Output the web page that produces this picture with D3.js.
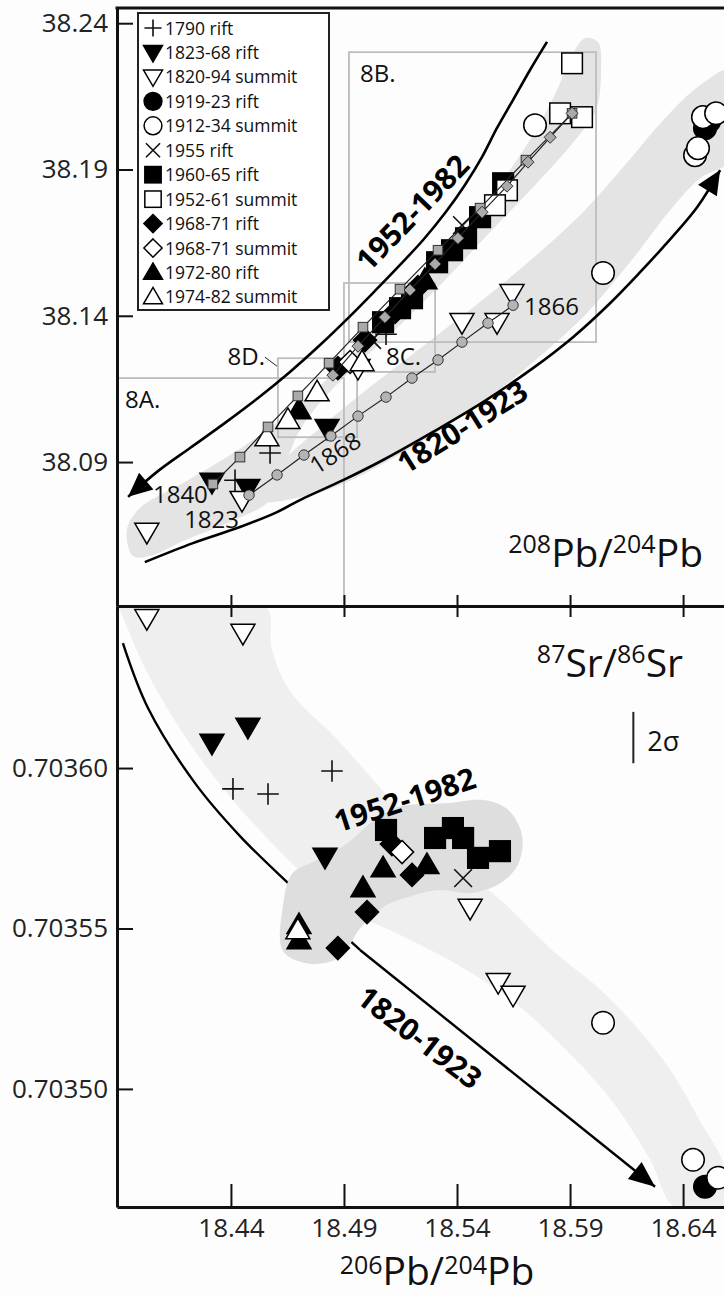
<!DOCTYPE html>
<html>
<head>
<meta charset="utf-8">
<script src="https://cdn.jsdelivr.net/npm/d3@7"></script>
<style>
  html, body { margin: 0; padding: 0; background: #fdfdfd; }
  svg { display: block; font-family: "Open Sans", "Noto Sans", sans-serif; }
</style>
</head>
<body>
<svg id="chart" width="724" height="1296"></svg>
<script>
// ---------------- data ----------------
const legendLabels = ["1790 rift", "1823-68 rift", "1820-94 summit", "1919-23 rift", "1912-34 summit",
  "1955 rift", "1960-65 rift", "1952-61 summit", "1968-71 rift", "1968-71 summit", "1972-80 rift", "1974-82 summit"];

const xTicks = [18.44, 18.49, 18.54, 18.59, 18.64];
const pbTicks = [38.09, 38.14, 38.19, 38.24];
const srTicks = [0.70350, 0.70355, 0.70360];

// 206Pb/204Pb vs 208Pb/204Pb, one array per eruption group
const pb1790rift = [[18.4573, 38.0931], [18.4418, 38.0838], [18.5086, 38.1337]];
const pb1823rift = [[18.4316, 38.0832], [18.4475, 38.0811], [18.4825, 38.1016]];
const pb1820summit = [[18.4028, 38.0661], [18.4449, 38.0770], [18.5422, 38.1378], [18.5577, 38.1378], [18.5643, 38.1477], [18.4962, 38.1221]];
const pb1919rift = [[18.6497, 38.2041], [18.6515, 38.2065]];
const pb1912summit = [[18.5745, 38.2051], [18.6046, 38.1546], [18.6453, 38.1949], [18.6466, 38.1973], [18.6488, 38.2079], [18.6546, 38.2092]];
const pb1955rift = [[18.5422, 38.1710], [18.5024, 38.1317]];
const pb1960rift = [[18.5604, 38.1853], [18.5502, 38.1737], [18.5440, 38.1665], [18.5378, 38.1624], [18.5312, 38.1583], [18.5201, 38.1460], [18.5148, 38.1426], [18.5073, 38.1378]];
const pb1952summit = [[18.5909, 38.2263], [18.5856, 38.2092], [18.5953, 38.2079], [18.5621, 38.1829], [18.5568, 38.1778]];
const pb1968rift = [[18.5227, 38.1498], [18.5126, 38.1413], [18.4993, 38.1317], [18.4873, 38.1221]];
const pb1968summit = [[18.4927, 38.1242]];
const pb1972rift = [[18.4701, 38.1078], [18.5258, 38.1522]];
const pb1974summit = [[18.4559, 38.0985], [18.4781, 38.1139], [18.4652, 38.1044], [18.4980, 38.1242]];

// 206Pb/204Pb vs 87Sr/86Sr
const sr1790rift = [[18.4409, 0.7035935], [18.4564, 0.7035919], [18.4847, 0.7035991]];
const sr1823rift = [[18.4316, 0.7036078], [18.4475, 0.7036128], [18.4816, 0.7035723]];
const sr1820summit = [[18.4028, 0.7036467], [18.4453, 0.7036421], [18.5458, 0.7035564], [18.5582, 0.7035333], [18.5648, 0.7035293]];
const sr1919rift = [[18.6497, 0.7034695]];
const sr1912summit = [[18.6046, 0.7035206], [18.6444, 0.7034779], [18.6555, 0.7034723]];
const sr1955rift = [[18.5427, 0.7035657]];
const sr1960rift = [[18.5086, 0.7035807], [18.5303, 0.7035782], [18.5382, 0.7035813], [18.5427, 0.7035782], [18.5493, 0.7035720], [18.5590, 0.7035741]];
const sr1952summit = [];
const sr1968rift = [[18.5112, 0.7035763], [18.5201, 0.7035667], [18.5002, 0.7035551], [18.4873, 0.7035439]];
const sr1968summit = [[18.5157, 0.7035738]];
const sr1972rift = [[18.5073, 0.7035688], [18.5267, 0.7035698], [18.4984, 0.7035626], [18.4701, 0.7035511], [18.4701, 0.7035464]];
const sr1974summit = [[18.4696, 0.7035495]];

// model paths in Pb-Pb space (small grey markers joined by a thin line)
const modelSquares = [[18.4320, 38.0825], [18.4440, 38.0917], [18.4564, 38.1020], [18.4696, 38.1126], [18.4834, 38.1238], [18.4984, 38.1361], [18.5148, 38.1491], [18.5316, 38.1624], [18.5502, 38.1768], [18.5705, 38.1932], [18.5909, 38.2092]];
const modelDiamonds = [[18.4851, 38.1197], [18.4962, 38.1296], [18.5081, 38.1395], [18.5192, 38.1488], [18.5303, 38.1577], [18.5404, 38.1665], [18.5511, 38.1754], [18.5621, 38.1843], [18.5714, 38.1925], [18.5812, 38.2010], [18.5909, 38.2092]];
const modelCircles = [[18.4480, 38.0787], [18.4604, 38.0856], [18.4723, 38.0924], [18.4842, 38.0989], [18.4962, 38.1057], [18.5086, 38.1122], [18.5201, 38.1187], [18.5316, 38.1249], [18.5422, 38.1310], [18.5537, 38.1375], [18.5648, 38.1436]];

// temporal trend curves
const trendPbRecent = [[18.5798, 38.2336], [18.5723, 38.2240], [18.5648, 38.2138], [18.5577, 38.2042], [18.5511, 38.1943], [18.5435, 38.1847], [18.5347, 38.1751], [18.5250, 38.1659], [18.5148, 38.1574], [18.5037, 38.1485], [18.4927, 38.1399], [18.4794, 38.1300], [18.4661, 38.1208], [18.4520, 38.1119], [18.4374, 38.1034], [18.4219, 38.0948], [18.4077, 38.0869], [18.3945, 38.0781]];
const trendPbEarly = [[18.4019, 38.0558], [18.4232, 38.0623], [18.4440, 38.0678], [18.4604, 38.0729], [18.4705, 38.0770], [18.4896, 38.0838], [18.5073, 38.0907], [18.5294, 38.1003], [18.5515, 38.1105], [18.5736, 38.1221], [18.5913, 38.1327], [18.6077, 38.1443], [18.6210, 38.1549], [18.6312, 38.1635], [18.6462, 38.1771], [18.6564, 38.1898]];
const trendSrEarly = [[18.3922, 0.7036389], [18.4033, 0.7036187], [18.4241, 0.7035953], [18.4440, 0.7035788], [18.4661, 0.7035636], [18.4971, 0.7035433], [18.6276, 0.7034695]];

// shaded fields
const fieldPbRecent = [[18.3966, 38.0579], [18.3940, 38.0668], [18.3997, 38.0743], [18.4196, 38.0832], [18.4418, 38.0934], [18.4639, 38.1057], [18.4860, 38.1208], [18.5081, 38.1378], [18.5303, 38.1573], [18.5524, 38.1785], [18.5714, 38.1990], [18.5838, 38.2164], [18.5909, 38.2291], [18.5966, 38.2349], [18.6024, 38.2335], [18.6037, 38.2239], [18.6015, 38.2103], [18.5922, 38.2000], [18.5745, 38.1846], [18.5546, 38.1686], [18.5347, 38.1522], [18.5148, 38.1368], [18.4971, 38.1242], [18.4816, 38.1122], [18.4705, 38.1009], [18.4639, 38.0890], [18.4573, 38.0770], [18.4396, 38.0695], [18.4196, 38.0633], [18.4042, 38.0579]];
const fieldPbEarly = [[18.4537, 38.0770], [18.4705, 38.0780], [18.4882, 38.0821], [18.5104, 38.0907], [18.5325, 38.1009], [18.5546, 38.1122], [18.5767, 38.1262], [18.5966, 38.1402], [18.6165, 38.1583], [18.6343, 38.1761], [18.6475, 38.1870], [18.6608, 38.1932], [18.6608, 38.2239], [18.6475, 38.2188], [18.6320, 38.2075], [18.6143, 38.1915], [18.5966, 38.1761], [18.5767, 38.1618], [18.5568, 38.1488], [18.5369, 38.1368], [18.5170, 38.1249], [18.4971, 38.1129], [18.4794, 38.1016], [18.4639, 38.0907]];
const fieldSrAll = [[18.3896, 0.7036505], [18.3909, 0.703649], [18.4028, 0.703630], [18.4205, 0.703609], [18.4409, 0.703590], [18.4674, 0.703570], [18.4882, 0.703557], [18.5148, 0.703548], [18.5369, 0.703540], [18.5635, 0.703528], [18.5856, 0.703514], [18.6077, 0.703497], [18.6254, 0.703478], [18.6365, 0.703463], [18.6581, 0.703463], [18.6581, 0.703476], [18.6475, 0.703490], [18.6343, 0.703506], [18.6210, 0.703518], [18.6033, 0.703531], [18.5825, 0.703543], [18.5590, 0.703559], [18.5369, 0.703571], [18.5214, 0.703582], [18.5059, 0.703594], [18.4869, 0.703609], [18.4661, 0.703624], [18.4581, 0.703637], [18.4550, 0.7036505]];
const fieldSrRecent = [[18.4630, 0.703543], [18.4630, 0.703557], [18.4670, 0.703567], [18.4772, 0.703571], [18.4904, 0.703576], [18.5037, 0.703584], [18.5148, 0.703588], [18.5347, 0.703589], [18.5524, 0.703590], [18.5626, 0.703587], [18.5688, 0.703579], [18.5670, 0.703570], [18.5590, 0.703564], [18.5458, 0.703561], [18.5325, 0.703562], [18.5192, 0.703560], [18.5081, 0.703557], [18.4971, 0.703550], [18.4882, 0.703541], [18.4750, 0.703539]];

// outlines of the enlarged sub-regions
const insetNames = ["8A.", "8B.", "8C.", "8D."];
const insetX = [[18.3896, 18.4900], [18.4922, 18.6015], [18.4900, 18.5303], [18.4608, 18.4958]];
const insetY = [[38.0408, 38.1187], [38.1310, 38.2301], [38.1208, 38.1512], [38.0985, 38.1255]];

// analytical uncertainty of 87Sr/86Sr
const srTwoSigma = 0.000016;
const sigmaBarAt = [18.618, 0.7036095];

// ---------------- layout ----------------
const W = 724, H = 1296;
const plotL = 117, plotR = 724, plotT = 8, plotM = 606, plotB = 1207;

const x = d3.scaleLinear().domain([18.3896, 18.6581]).range([plotL, plotR]);
const yPb = d3.scaleLinear().domain([38.0408, 38.2452]).range([plotM, plotT]);
const ySr = d3.scaleLinear().domain([0.7034632, 0.7036505]).range([plotB, plotM]);

// marker style per legend entry
const styles = [
  {shape: "plus"}, {shape: "down", filled: true}, {shape: "down"}, {shape: "circle", filled: true},
  {shape: "circle"}, {shape: "cross"}, {shape: "square", filled: true}, {shape: "square"},
  {shape: "diamond", filled: true}, {shape: "diamond"}, {shape: "up", filled: true}, {shape: "up"}
];
const pbSeries = [pb1790rift, pb1823rift, pb1820summit, pb1919rift, pb1912summit, pb1955rift, pb1960rift, pb1952summit, pb1968rift, pb1968summit, pb1972rift, pb1974summit];
const srSeries = [sr1790rift, sr1823rift, sr1820summit, sr1919rift, sr1912summit, sr1955rift, sr1960rift, sr1952summit, sr1968rift, sr1968summit, sr1972rift, sr1974summit];

const svg = d3.select("#chart");
svg.append("rect").attr("width", W).attr("height", H).attr("fill", "#fdfdfd");

const defs = svg.append("defs");
defs.append("clipPath").attr("id", "clipTop").append("rect")
  .attr("x", plotL).attr("y", plotT).attr("width", plotR - plotL).attr("height", plotM - plotT);
defs.append("clipPath").attr("id", "clipBot").append("rect")
  .attr("x", plotL).attr("y", plotM).attr("width", plotR - plotL).attr("height", plotB - plotM);

const gTop = svg.append("g").attr("clip-path", "url(#clipTop)");
const gBot = svg.append("g").attr("clip-path", "url(#clipBot)");

function drawSymbol(g, st, cx, cy, s) {
  const fill = st.filled ? "#000" : "#fff";
  const stroke = "#000";
  if (st.shape === "plus") {
    const a = s * 0.45;
    g.append("path").attr("d", `M${cx - a},${cy}H${cx + a}M${cx},${cy - a}V${cy + a}`)
      .attr("stroke", "#111").attr("stroke-width", 1.6).attr("fill", "none");
  } else if (st.shape === "cross") {
    const a = s * 0.37;
    g.append("path").attr("d", `M${cx - a},${cy - a}L${cx + a},${cy + a}M${cx - a},${cy + a}L${cx + a},${cy - a}`)
      .attr("stroke", "#111").attr("stroke-width", 1.6).attr("fill", "none");
  } else if (st.shape === "down" || st.shape === "up") {
    const hw = s * 0.5, h = s * 0.86, k = st.shape === "down" ? 1 : -1;
    const yb = cy - k * h * 0.42, yt = cy + k * h * 0.58;
    g.append("path").attr("d", `M${cx - hw},${yb}L${cx + hw},${yb}L${cx},${yt}Z`)
      .attr("fill", fill).attr("stroke", stroke).attr("stroke-width", 1.5).attr("stroke-linejoin", "miter");
  } else if (st.shape === "circle") {
    g.append("circle").attr("cx", cx).attr("cy", cy).attr("r", s * 0.47)
      .attr("fill", fill).attr("stroke", stroke).attr("stroke-width", 1.5);
  } else if (st.shape === "square") {
    const a = s * 0.43;
    g.append("rect").attr("x", cx - a).attr("y", cy - a).attr("width", 2 * a).attr("height", 2 * a)
      .attr("fill", fill).attr("stroke", stroke).attr("stroke-width", 1.5);
  } else if (st.shape === "diamond") {
    const a = s * 0.48;
    g.append("path").attr("d", `M${cx},${cy - a}L${cx + a},${cy}L${cx},${cy + a}L${cx - a},${cy}Z`)
      .attr("fill", fill).attr("stroke", stroke).attr("stroke-width", 1.5);
  }
}

function arrowHead(g, p0, p1, len, half) {
  const dx = p1[0] - p0[0], dy = p1[1] - p0[1], L = Math.hypot(dx, dy);
  const ux = dx / L, uy = dy / L;
  const bx = p1[0] - ux * len, by = p1[1] - uy * len;
  g.append("path")
    .attr("d", `M${p1[0]},${p1[1]}L${bx - uy * half},${by + ux * half}L${bx + uy * half},${by - ux * half}Z`)
    .attr("fill", "#000");
}

const closedLine = (ys) => d3.line().x(d => x(d[0])).y(d => ys(d[1])).curve(d3.curveCatmullRomClosed.alpha(0.5));
const openLine = (ys) => d3.line().x(d => x(d[0])).y(d => ys(d[1])).curve(d3.curveCatmullRom.alpha(0.5));

// ---------------- upper panel: 208Pb/204Pb ----------------
gTop.append("path").attr("d", closedLine(yPb)(fieldPbRecent)).attr("fill", "#e4e4e4");
gTop.append("path").attr("d", closedLine(yPb)(fieldPbEarly)).attr("fill", "#e4e4e4");

insetNames.forEach((nm, i) => {
  const x0 = x(insetX[i][0]), x1 = x(insetX[i][1]);
  const y0 = yPb(insetY[i][1]), y1 = yPb(insetY[i][0]);
  gTop.append("rect").attr("x", x0).attr("y", y0).attr("width", x1 - x0).attr("height", y1 - y0)
    .attr("fill", "none").attr("stroke", "#bdbdbd").attr("stroke-width", 1.8);
});

gTop.append("path").attr("d", openLine(yPb)(trendPbRecent)).attr("fill", "none").attr("stroke", "#000").attr("stroke-width", 2.6);
gTop.append("path").attr("d", openLine(yPb)(trendPbEarly)).attr("fill", "none").attr("stroke", "#000").attr("stroke-width", 2.6);
{
  const n = trendPbRecent.length, a = trendPbRecent[n - 2], b = trendPbRecent[n - 1];
  arrowHead(gTop, [x(a[0]), yPb(a[1])], [x(b[0]), yPb(b[1])], 24, 11);
  const m = trendPbEarly.length, c = trendPbEarly[m - 2], d = trendPbEarly[m - 1];
  arrowHead(gTop, [x(c[0]), yPb(c[1])], [x(d[0]), yPb(d[1])], 24, 11);
}

pbSeries.forEach((arr, i) => {
  arr.forEach(d => drawSymbol(gTop, styles[i], x(d[0]), yPb(d[1]), 24));
});

// model paths drawn over the samples
function modelPath(pts, kind) {
  gTop.append("path").attr("d", d3.line().x(d => x(d[0])).y(d => yPb(d[1]))(pts))
    .attr("fill", "none").attr("stroke", "#222").attr("stroke-width", 1.2);
  pts.forEach(d => {
    const cx = x(d[0]), cy = yPb(d[1]);
    if (kind === "circle") {
      gTop.append("circle").attr("cx", cx).attr("cy", cy).attr("r", 5.2)
        .attr("fill", "#b4b4b4").attr("stroke", "#333").attr("stroke-width", 1);
    } else if (kind === "square") {
      gTop.append("rect").attr("x", cx - 4.8).attr("y", cy - 4.8).attr("width", 9.6).attr("height", 9.6)
        .attr("fill", "#aaa").attr("stroke", "#333").attr("stroke-width", 1);
    } else {
      gTop.append("path").attr("d", `M${cx},${cy - 6}L${cx + 6},${cy}L${cx},${cy + 6}L${cx - 6},${cy}Z`)
        .attr("fill", "#aaa").attr("stroke", "#333").attr("stroke-width", 1);
    }
  });
}
modelPath(modelCircles, "circle");
modelPath(modelSquares, "square");
modelPath(modelDiamonds, "diamond");

// year and region labels
const lblStyle = (t, size) => t.style("font-size", size + "px").attr("fill", "#111");
{
  const s0 = modelSquares[0], c0 = modelCircles[0], c3 = modelCircles[3], cN = modelCircles[modelCircles.length - 1];
  lblStyle(gTop.append("text").attr("x", x(s0[0]) - 5).attr("y", yPb(s0[1]) + 19).attr("text-anchor", "end").text("1840"), 24);
  lblStyle(gTop.append("text").attr("x", x(c0[0]) - 10).attr("y", yPb(c0[1]) + 33).attr("text-anchor", "end").text("1823"), 24);
  lblStyle(gTop.append("text").attr("text-anchor", "middle")
    .attr("transform", `translate(${x(c3[0]) + 9},${yPb(c3[1]) + 24}) rotate(-33)`).text("1868"), 24);
  lblStyle(gTop.append("text").attr("x", x(cN[0]) + 11).attr("y", yPb(cN[1]) + 10).text("1866"), 24);
}
{
  // 8A / 8B: inside the upper-left corner; 8C: inside the lower-right corner; 8D: outside with a leader
  const bx = i => x(insetX[i][0]), bxr = i => x(insetX[i][1]), by = i => yPb(insetY[i][1]), byb = i => yPb(insetY[i][0]);
  lblStyle(gTop.append("text").attr("x", bx(0) + 8).attr("y", by(0) + 30).text("8A."), 24);
  lblStyle(gTop.append("text").attr("x", bx(1) + 11).attr("y", by(1) + 30).text("8B."), 24);
  lblStyle(gTop.append("text").attr("x", bxr(2) - 14).attr("y", byb(2) - 7).attr("text-anchor", "end").text("8C."), 24);
  lblStyle(gTop.append("text").attr("x", bx(3) - 13).attr("y", by(3) + 7).attr("text-anchor", "end").text("8D."), 24);
  gTop.append("line").attr("x1", bx(3) - 13).attr("y1", by(3) - 1).attr("x2", bx(3) - 1).attr("y2", by(3) + 8)
    .attr("stroke", "#222").attr("stroke-width", 1);
}
{
  const r = trendPbRecent[6], e = trendPbEarly[8];
  gTop.append("text").attr("text-anchor", "middle")
    .attr("transform", `translate(${x(r[0]) - 25},${yPb(r[1]) + 7}) rotate(-46)`)
    .style("font-size", "30px").style("font-weight", 700).text("1952-1982");
  gTop.append("text").attr("text-anchor", "middle")
    .attr("transform", `translate(${x(e[0]) - 15},${yPb(e[1]) + 34}) rotate(-32)`)
    .style("font-size", "30px").style("font-weight", 700).text("1820-1923");
}

// ---------------- lower panel: 87Sr/86Sr ----------------
gBot.append("path").attr("d", closedLine(ySr)(fieldSrAll)).attr("fill", "#efefef");
gBot.append("path").attr("d", openLine(ySr)(trendSrEarly.slice(0, 6))).attr("fill", "none").attr("stroke", "#000").attr("stroke-width", 2.4);
gBot.append("path").attr("d", d3.line().x(d => x(d[0])).y(d => ySr(d[1]))(trendSrEarly.slice(5))).attr("fill", "none").attr("stroke", "#000").attr("stroke-width", 2.4);
gBot.append("path").attr("d", closedLine(ySr)(fieldSrRecent)).attr("fill", "#dedede");
{
  const n = trendSrEarly.length, a = trendSrEarly[n - 2], b = trendSrEarly[n - 1];
  arrowHead(gBot, [x(a[0]), ySr(a[1])], [x(b[0]), ySr(b[1])], 26, 11);
}

srSeries.forEach((arr, i) => {
  arr.forEach(d => drawSymbol(gBot, styles[i], x(d[0]), ySr(d[1]), 24));
});

{
  const r = sr1960rift[0], e = trendSrEarly[5];
  gBot.append("text").attr("text-anchor", "middle")
    .attr("transform", `translate(${x(r[0]) + 22},${ySr(r[1]) - 20}) rotate(-18)`)
    .style("font-size", "30px").style("font-weight", 700).text("1952-1982");
  gBot.append("text").attr("text-anchor", "middle")
    .attr("transform", `translate(${x(e[0]) + 53},${ySr(e[1]) + 96}) rotate(37.5)`)
    .style("font-size", "30px").style("font-weight", 700).text("1820-1923");
}

// 2-sigma bar
{
  const bx = x(sigmaBarAt[0]);
  svg.append("line").attr("x1", bx).attr("x2", bx)
    .attr("y1", ySr(sigmaBarAt[1] + srTwoSigma / 2)).attr("y2", ySr(sigmaBarAt[1] - srTwoSigma / 2))
    .attr("stroke", "#222").attr("stroke-width", 2);
  svg.append("text").attr("x", bx + 14).attr("y", ySr(sigmaBarAt[1]) + 13)
    .style("font-size", "27px").attr("fill", "#111").text("2σ");
}

// ---------------- axes ----------------
function styleAxis(g, fontSize) {
  g.select(".domain").attr("stroke", "#111").attr("stroke-width", 3);
  g.selectAll(".tick line").attr("stroke", "#111").attr("stroke-width", 2);
  g.selectAll(".tick text").style("font-size", fontSize + "px").style("font-family", "Open Sans, sans-serif").attr("fill", "#222");
}

svg.append("g").attr("transform", `translate(${plotL},0)`)
  .call(d3.axisLeft(yPb).tickValues(pbTicks).tickFormat(d3.format(".2f")).tickSize(-16).tickSizeOuter(0).tickPadding(9))
  .call(g => styleAxis(g, 26));
svg.append("g").attr("transform", `translate(${plotL},0)`)
  .call(d3.axisLeft(ySr).tickValues(srTicks).tickFormat(d3.format(".5f")).tickSize(-16).tickSizeOuter(0).tickPadding(9))
  .call(g => styleAxis(g, 26));

svg.append("g").attr("transform", `translate(0,${plotM})`)
  .call(d3.axisBottom(x).tickValues(xTicks).tickFormat("").tickSize(-11).tickSizeOuter(0))
  .call(g => styleAxis(g, 26));
svg.append("g").attr("transform", `translate(0,${plotM})`)
  .call(d3.axisTop(x).tickValues(xTicks).tickFormat("").tickSize(-11).tickSizeOuter(0))
  .call(g => styleAxis(g, 26));
svg.append("g").attr("transform", `translate(0,${plotB})`)
  .call(d3.axisBottom(x).tickValues(xTicks).tickFormat(d3.format(".2f")).tickSize(-23).tickSizeOuter(0).tickPadding(12))
  .call(g => styleAxis(g, 26));
svg.append("line").attr("x1", plotL - 1.5).attr("x2", plotR).attr("y1", plotT).attr("y2", plotT)
  .attr("stroke", "#111").attr("stroke-width", 3);

// axis titles
function isoTitle(xPos, yPos, anchor, parts, rise) {
  const t = svg.append("text").attr("x", xPos).attr("y", yPos).attr("text-anchor", anchor).attr("fill", "#111");
  parts.forEach(p => {
    t.append("tspan").attr("dy", p.sup ? -rise : (p.after ? rise : 0))
      .style("font-size", p.sup ? "25px" : "39px").text(p.t);
  });
}
isoTitle(703, 567, "end", [{t: "208", sup: true}, {t: "Pb/", after: true}, {t: "204", sup: true}, {t: "Pb", after: true}], 14);
isoTitle(683, 677, "end", [{t: "87", sup: true}, {t: "Sr/", after: true}, {t: "86", sup: true}, {t: "Sr", after: true}], 14);
isoTitle(437, 1285, "middle", [{t: "206", sup: true}, {t: "Pb/", after: true}, {t: "204", sup: true}, {t: "Pb", after: true}], 11);

// ---------------- legend ----------------
{
  const lg = svg.append("g");
  lg.append("rect").attr("x", 138).attr("y", 13).attr("width", 191).attr("height", 297)
    .attr("fill", "#fff").attr("stroke", "#222").attr("stroke-width", 2);
  legendLabels.forEach((lab, i) => {
    const cy = 28 + i * 24.45;
    drawSymbol(lg, styles[i], 153, cy, 19);
    lg.append("text").attr("x", 165).attr("y", cy + 6.5).style("font-size", "17.5px").attr("fill", "#111").text(lab);
  });
}
</script>
</body>
</html>
